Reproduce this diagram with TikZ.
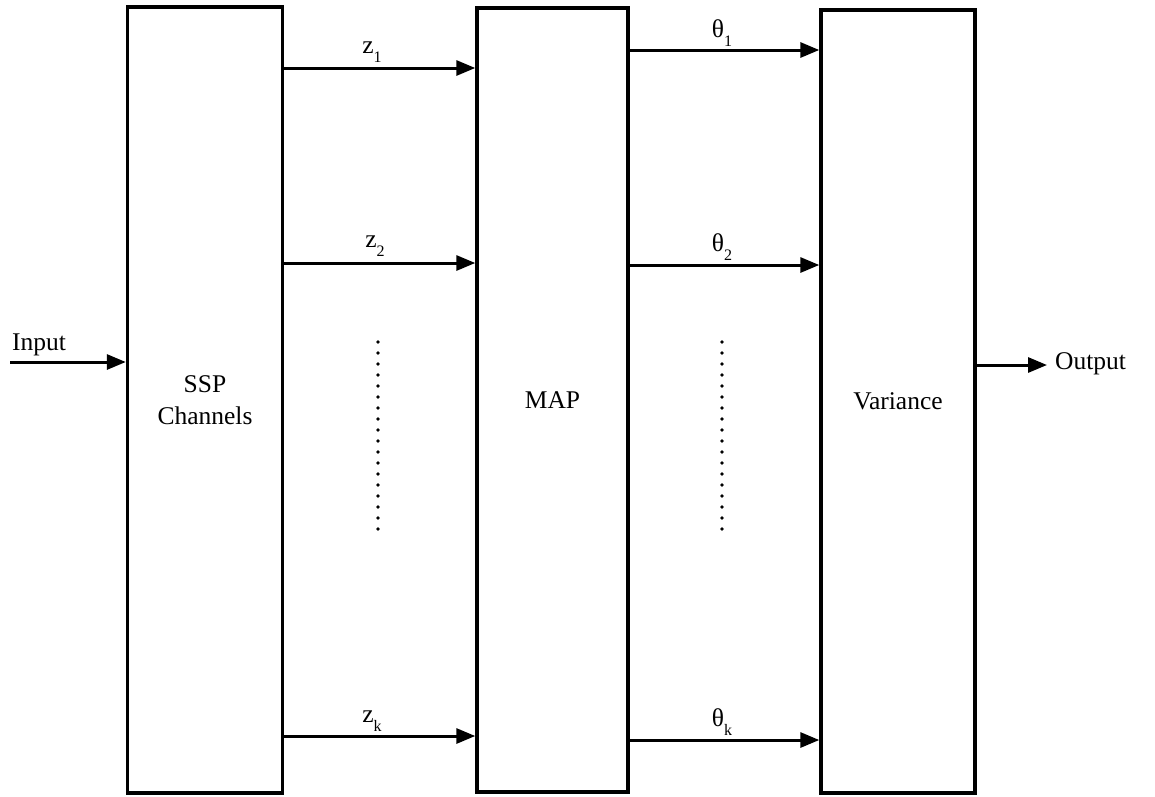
\documentclass[tikz,border=0pt]{standalone}
\usepackage{fontspec}
\setmainfont{Liberation Serif}
\usetikzlibrary{arrows.meta}
\begin{document}
\begin{tikzpicture}[x=1pt,y=-1pt,
  blk/.style={draw, line width=3.4pt, minimum width=#1, inner sep=0pt, font=\fontsize{25.5}{30}\selectfont, align=center},
  arr/.style={line width=3pt, -{Triangle[length=19pt,width=15pt]}},
  lbl/.style={font=\fontsize{25.5}{30}\selectfont, inner sep=0pt},
  dotline/.style={line width=3.6pt, line cap=round, dash pattern=on 0pt off 11pt}]
\useasboundingbox (0,0) rectangle (1155,796);
\node[blk=155pt, minimum height=786pt] (ssp) at (205,400) {SSP\\[2pt]Channels};
\node[blk=151pt, minimum height=784pt] (map) at (552.5,400) {MAP};
\node[blk=154pt, minimum height=783pt] (var) at (898,401.5) {Variance};
% input / output
\coordinate (in) at (10,362);
\draw[arr] (in) -- (ssp.west |- in);
\node[lbl, anchor=base west] (inlbl) at (12,350) {Input};
\coordinate (outs) at (975,365);
\coordinate (out) at (1047,365);
\draw[arr] (var.east |- outs) -- (out);
\node[lbl, anchor=west] (outlbl) at (1055,364) {Output};
% z arrows
\coordinate (z1) at (0,68);
\coordinate (z2) at (0,263);
\coordinate (zk) at (0,736);
\draw[arr] (ssp.east |- z1) -- (map.west |- z1);
\draw[arr] (ssp.east |- z2) -- (map.west |- z2);
\draw[arr] (ssp.east |- zk) -- (map.west |- zk);
\node[lbl] (lz1) at (372,52) {z\raisebox{-0.35em}{\fontsize{16}{18}\selectfont 1}};
\node[lbl] (lz2) at (375,246) {z\raisebox{-0.35em}{\fontsize{16}{18}\selectfont 2}};
\node[lbl] (lzk) at (372,721) {z\raisebox{-0.35em}{\fontsize{16}{18}\selectfont k}};
% theta arrows
\coordinate (t1) at (0,50);
\coordinate (t2) at (0,265);
\coordinate (tk) at (0,740);
\draw[arr] (map.east |- t1) -- (var.west |- t1);
\draw[arr] (map.east |- t2) -- (var.west |- t2);
\draw[arr] (map.east |- tk) -- (var.west |- tk);
\node[lbl] (lt1) at (722,33) {θ\raisebox{-0.35em}{\fontsize{16}{18}\selectfont 1}};
\node[lbl] (lt2) at (722,247) {θ\raisebox{-0.35em}{\fontsize{16}{18}\selectfont 2}};
\node[lbl] (ltk) at (722,722) {θ\raisebox{-0.35em}{\fontsize{16}{18}\selectfont k}};
% dots
\draw[dotline] (378,342) -- (378,533);
\draw[dotline] (722,342) -- (722,533);
\end{tikzpicture}
\end{document}
